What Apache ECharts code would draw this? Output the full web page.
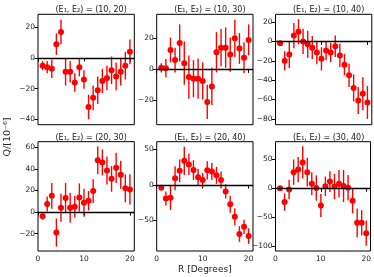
<!DOCTYPE html>
<html><head><meta charset="utf-8">
<script src="https://cdn.jsdelivr.net/npm/echarts@6/dist/echarts.min.js"></script>
<style>html,body{margin:0;padding:0;background:#fff}#c{width:374px;height:277px}</style>
</head><body><div id="c"></div>
<script>
// R values (degrees)
const R = [1,2,3,4,5,6,7,8,9,10,11,12,13,14,15,16,17,18,19,20];

// (E1,E2) = (10,20)
const q_10_20 = [-5,-6,-7,9,17,-9,-9,-16,-6,-14,-32,-26,-21,-15,-13,-8,-12,-9,-5,4];
const e_10_20 = [3,4,6,7,8,9,7,6,6,6,8,8,9,8,8,9,9,9,9,8];
// (E1,E2) = (10,30)
const q_10_30 = [1,0.7,12.5,6,17,4,-5,-6,-6,-7.5,-21,-11,11,14,14,9.5,20,13.5,7.5,19];
const e_10_30 = [3,6,8,8,12,14,14,12,13,12,11,12,13,12,13,11,12,10,10,10];
// (E1,E2) = (10,40)
const q_10_40 = [-2,-20,-13.5,6,10,0,-3,-6.5,-11.5,-18,-9.5,-11.5,-5,-14.5,-24,-35,-48,-61,-54,-63];
const e_10_40 = [2,10,14,13,13,13,14,12,12,12,10,10,11,12,11,12,14,14,17,17];
// (E1,E2) = (20,30)
const q_20_30 = [-4,7.4,15,-19,4,13,4,5,13.5,8.6,10.5,19.4,48,46,38.5,30.8,41,34.5,22,21];
const e_20_30 = [3,7,12,13,13,14,14,10,13,13,9,11,13,12,13,12,14,13,13,14];
// (E1,E2) = (20,40)
const q_20_40 = [-4,-19,-18,9.5,20,34,29,21,11,7,20.6,19,13.6,7,-9,-27,-44.6,-69,-59,-72];
const e_20_40 = [3,10,17,17,16,20,15,14,12,10,13,12,12,12,10,12,12,11,10,11];
// (E1,E2) = (30,40)
const q_30_40 = [0,-24,-2,28,32.5,45,28,8,0.5,-30,3.5,11.6,3,8,4,1,-21.5,-60,-60,-78];
const e_30_40 = [3,15,17,22,22,28,25,20,22,20,17,18,22,24,28,22,22,25,22,22];

const titles = ['(E₁, E₂) = (10, 20)','(E₁, E₂) = (10, 30)','(E₁, E₂) = (10, 40)',
                '(E₁, E₂) = (20, 30)','(E₁, E₂) = (20, 40)','(E₁, E₂) = (30, 40)'];
const xTicks = [0,10,20];
const yTicks = [[-40,-20,0,20],[-20,0,20],[-80,-60,-40,-20,0,20],[-20,0,20,40,60],[-50,0,50],[-100,-50,0,50]];
const xLabel = 'R [Degrees]';
const yLabel = 'Q/[10⁻⁶]';

const qs = [q_10_20,q_10_30,q_10_40,q_20_30,q_20_40,q_30_40];
const es = [e_10_20,e_10_30,e_10_40,e_20_30,e_20_40,e_30_40];

// axis limits
const xRange = [0, 20.95];
const yRanges = [[-43.5,28.5],[-35.7,35.5],[-86,28],[-36.1,65.2],[-93,61],[-109,81]];

const lefts = [38, 156.7, 275.5];
const tops = [14.3, 141.7];
const W = 96.3, H = [110.4, 109.3];

const FONT = 'DejaVu Sans';
const fmt = v => v < 0 ? '\u2212' + Math.abs(v) : String(v);

const grids = [], xAxes = [], yAxes = [], series = [], titleArr = [];
for (let i = 0; i < 6; i++) {
  const row = Math.floor(i / 3), col = i % 3;
  grids.push({left: lefts[col], top: tops[row], width: W, height: H[row],
    show: true, borderColor: '#000', borderWidth: 1, backgroundColor: 'transparent', containLabel: false});
  xAxes.push({type: 'value', gridIndex: i, min: xRange[0], max: xRange[1],
    axisLine: {show: false}, splitLine: {show: false},
    axisTick: {show: true, length: 3.5, lineStyle: {color: '#000', width: 1}, customValues: xTicks},
    axisLabel: {show: row === 1, customValues: xTicks, fontFamily: FONT, fontSize: 7.5, color: '#222', margin: 4, formatter: fmt}});
  yAxes.push({type: 'value', gridIndex: i, min: yRanges[i][0], max: yRanges[i][1],
    axisLine: {show: false}, splitLine: {show: false},
    axisTick: {show: true, length: 3.5, lineStyle: {color: '#000', width: 1}, customValues: yTicks[i]},
    axisLabel: {show: true, customValues: yTicks[i], fontFamily: FONT, fontSize: 7.5, color: '#222', margin: 3, formatter: fmt}});
  const q = qs[i], e = es[i];
  series.push({type: 'custom', xAxisIndex: i, yAxisIndex: i, z: 2,
    data: R.map((r, j) => [r, q[j] - e[j], q[j] + e[j]]),
    encode: {x: 0, y: [1, 2]},
    renderItem: (params, api) => {
      const p1 = api.coord([api.value(0), api.value(1)]);
      const p2 = api.coord([api.value(0), api.value(2)]);
      return {type: 'line', shape: {x1: p1[0], y1: p1[1], x2: p2[0], y2: p2[1]},
        style: {stroke: '#ff0000', lineWidth: 1.4}};
    },
    markLine: {silent: true, symbol: ['none', 'none'], label: {show: false},
      lineStyle: {color: '#000', width: 1.4, type: 'solid'}, data: [{yAxis: 0}]}
  });
  series.push({type: 'scatter', xAxisIndex: i, yAxisIndex: i, z: 3,
    symbol: 'circle', symbolSize: 6, itemStyle: {color: '#ff0000', opacity: 1},
    data: R.map((r, j) => [r, q[j]])});
  titleArr.push({text: titles[i], left: lefts[col] + W / 2, top: tops[row] - 13, textAlign: 'center',
    textStyle: {fontFamily: FONT, fontSize: 8, fontWeight: 'normal', color: '#222'}});
}

const chart = echarts.init(document.getElementById('c'), null, {renderer: 'canvas'});
chart.setOption({
  animation: false,
  backgroundColor: '#fff',
  title: titleArr,
  grid: grids, xAxis: xAxes, yAxis: yAxes, series: series,
  graphic: [
    {type: 'text', x: lefts[1] + W / 2, y: 265,
      style: {text: xLabel, font: '9px "DejaVu Sans"', fill: '#222', textAlign: 'center'}},
    {type: 'text', x: 3, y: 137, rotation: Math.PI / 2,
      style: {text: yLabel, font: '9.5px "DejaVu Sans"', fill: '#222', textAlign: 'center'}}
  ]
});
</script>
</body></html>
